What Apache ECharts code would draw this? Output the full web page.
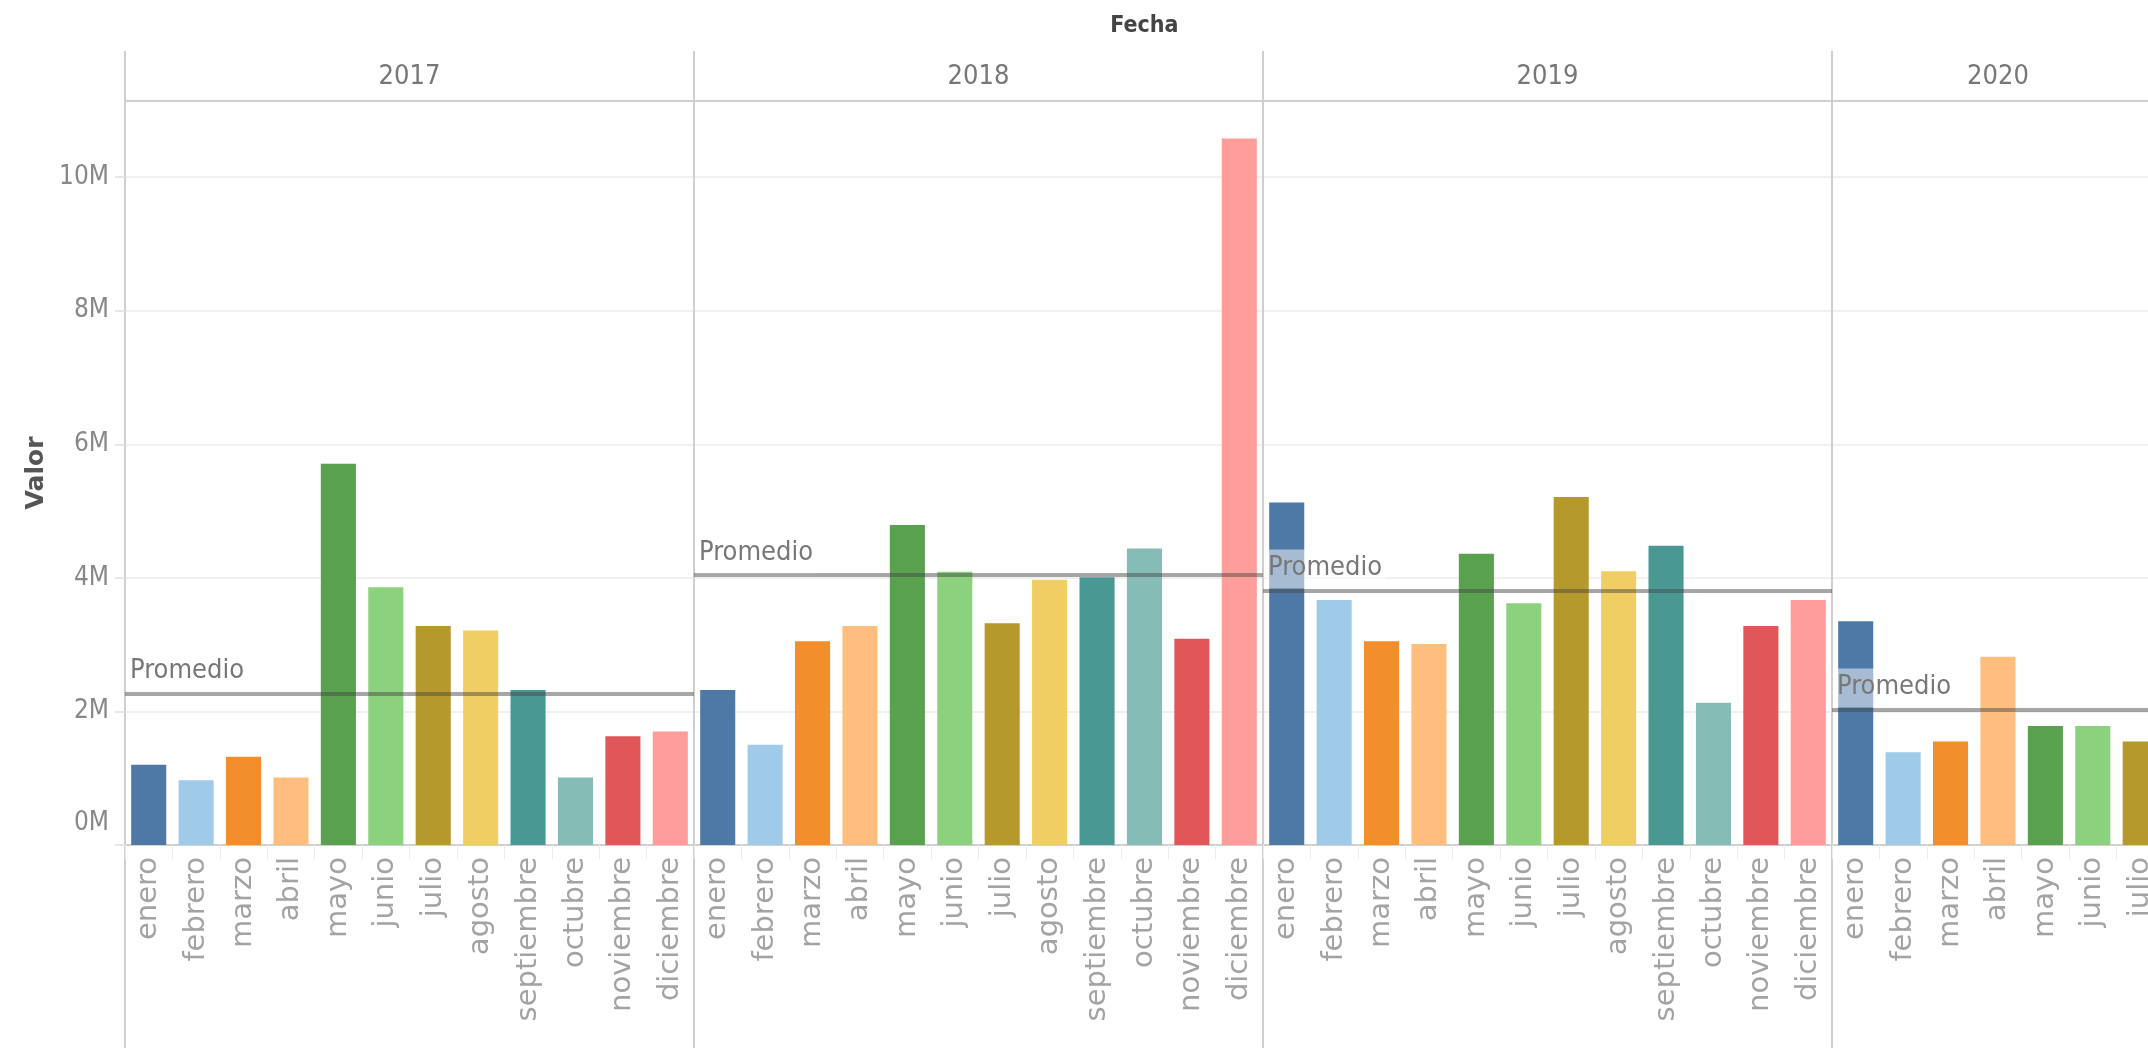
<!DOCTYPE html>
<html>
<head>
<meta charset="utf-8">
<script src="https://cdn.jsdelivr.net/npm/echarts@6/dist/echarts.min.js"></script>
<style>
html, body { margin: 0; padding: 0; background: #fff; }
#chart { width: 2148px; height: 1048px; }
</style>
</head>
<body>
<div id="chart"></div>
<script>
var myChart = echarts.init(document.getElementById('chart'));

// data (values in millions)
var years = ['2017', '2018', '2019', '2020'];
var months = ['enero', 'febrero', 'marzo', 'abril', 'mayo', 'junio', 'julio',
    'agosto', 'septiembre', 'octubre', 'noviembre', 'diciembre'];
var valores2017 = [1.20, 0.97, 1.32, 1.01, 5.71, 3.86, 3.28, 3.21, 2.32, 1.01, 1.63, 1.70];
var valores2018 = [2.32, 1.50, 3.05, 3.28, 4.79, 4.09, 3.32, 3.97, 4.01, 4.44, 3.09, 10.58];
var valores2019 = [5.13, 3.67, 3.05, 3.01, 4.36, 3.62, 5.21, 4.10, 4.48, 2.13, 3.28, 3.67];
var valores2020 = [3.35, 1.39, 1.55, 2.82, 1.78, 1.78, 1.55];
var valoresPorAnio = [valores2017, valores2018, valores2019, valores2020];

var monthColors = ['#4E79A7', '#A0CBE8', '#F28E2B', '#FFBE7D', '#59A14F', '#8CD17D',
    '#B6992D', '#F1CE63', '#499894', '#86BCB6', '#E15759', '#FF9D9A'];

// layout
var panelLeft = 125;
var panelWidth = 569;
var colWidth = panelWidth / 12;
var plotTop = 101;
var plotBottom = 203;
var yMax = 11.14;
var narrow = "'Liberation Sans Narrow', 'DejaVu Sans Condensed', 'Liberation Sans', sans-serif";

var grids = [];
var xAxes = [];
var yAxes = [];
var series = [];

for (var i = 0; i < years.length; i++) {
    var vals = valoresPorAnio[i];
    grids.push({
        left: panelLeft + i * panelWidth,
        top: plotTop,
        bottom: plotBottom,
        width: colWidth * vals.length,
        outerBoundsMode: 'none',
        containLabel: false
    });
    // months at the bottom
    xAxes.push({
        type: 'category',
        gridIndex: i,
        data: months.slice(0, vals.length),
        axisLine: { lineStyle: { color: '#d0d0d0', width: 2 } },
        axisTick: { show: true, length: 14, lineStyle: { color: '#ececec', width: 1 } },
        axisLabel: {
            interval: 0,
            rotate: 90,
            margin: 12,
            fontFamily: 'DejaVu Sans',
            fontSize: 29,
            color: '#a3a3a3'
        }
    });
    yAxes.push({
        type: 'value',
        gridIndex: i,
        min: 0,
        max: yMax,
        interval: 2,
        name: i === 0 ? 'Valor' : '',
        nameLocation: 'middle',
        nameGap: 76,
        nameMoveOverlap: false,
        nameTextStyle: {
            fontFamily: 'DejaVu Sans',
            fontWeight: 'bold',
            fontSize: 25,
            color: '#555'
        },
        axisLine: { show: false },
        axisTick: { show: i === 0, length: 10, lineStyle: { color: '#e6e6e6', width: 2 } },
        axisLabel: {
            show: i === 0,
            showMaxLabel: false,
            margin: 16,
            fontFamily: narrow,
            fontSize: 26,
            color: '#888',
            formatter: function (v) {
                return v === 0 ? '{z|0M}' : v + 'M';
            },
            rich: {
                z: { fontFamily: narrow, fontSize: 26, color: '#888', padding: [0, 0, 44, 0] }
            }
        },
        splitLine: { lineStyle: { color: '#f0f0f0', width: 2 } }
    });
    series.push({
        type: 'bar',
        name: years[i],
        xAxisIndex: i,
        yAxisIndex: i,
        data: vals,
        barWidth: '74%',
        itemStyle: {
            color: function (p) {
                return monthColors[p.dataIndex];
            }
        },
        emphasis: { disabled: true },
        markLine: {
            silent: true,
            symbol: 'none',
            data: [{ type: 'average', name: 'Promedio' }],
            lineStyle: { color: 'rgba(70,70,70,0.48)', width: 4, type: 'solid' },
            emphasis: { disabled: true },
            label: {
                show: true,
                position: 'insideStartTop',
                formatter: 'Promedio',
                distance: 2,
                padding: [5, 4, 7, 3],
                backgroundColor: 'rgba(255,255,255,0.5)',
                fontFamily: narrow,
                fontSize: 27,
                color: '#777'
            }
        }
    });
}

// year headers on top of each panel
for (var k = 0; k < years.length; k++) {
    xAxes.push({
        type: 'category',
        gridIndex: k,
        position: 'top',
        data: [years[k]],
        axisLine: { lineStyle: { color: '#cfcfcf', width: 2 } },
        axisTick: { show: false },
        axisLabel: { margin: 11, fontFamily: narrow, fontSize: 27, color: '#777' },
        splitLine: { show: false }
    });
}

// frame grid: full height panel separators
grids.push({
    left: panelLeft,
    top: 51,
    bottom: 0,
    width: panelWidth * years.length,
    outerBoundsMode: 'none',
    containLabel: false
});
xAxes.push({
    type: 'category',
    gridIndex: years.length,
    data: years,
    axisLine: { show: false },
    axisTick: { show: false },
    axisLabel: { show: false },
    splitLine: { show: true, interval: 0, lineStyle: { color: '#cfcfcf', width: 2 } }
});
yAxes.push({
    type: 'value',
    gridIndex: years.length,
    show: false,
    splitLine: { show: false }
});

var chartCenter = panelLeft + (panelWidth * 3 + colWidth * valores2020.length) / 2;

option = {
    backgroundColor: '#fff',
    animation: false,
    graphic: [{
        type: 'text',
        x: chartCenter,
        y: 26,
        style: {
            text: 'Fecha',
            align: 'center',
            verticalAlign: 'middle',
            font: 'bold 23px ' + narrow,
            fill: '#444'
        }
    }],
    grid: grids,
    xAxis: xAxes,
    yAxis: yAxes,
    series: series
};
myChart.setOption(option);
</script>
</body>
</html>
